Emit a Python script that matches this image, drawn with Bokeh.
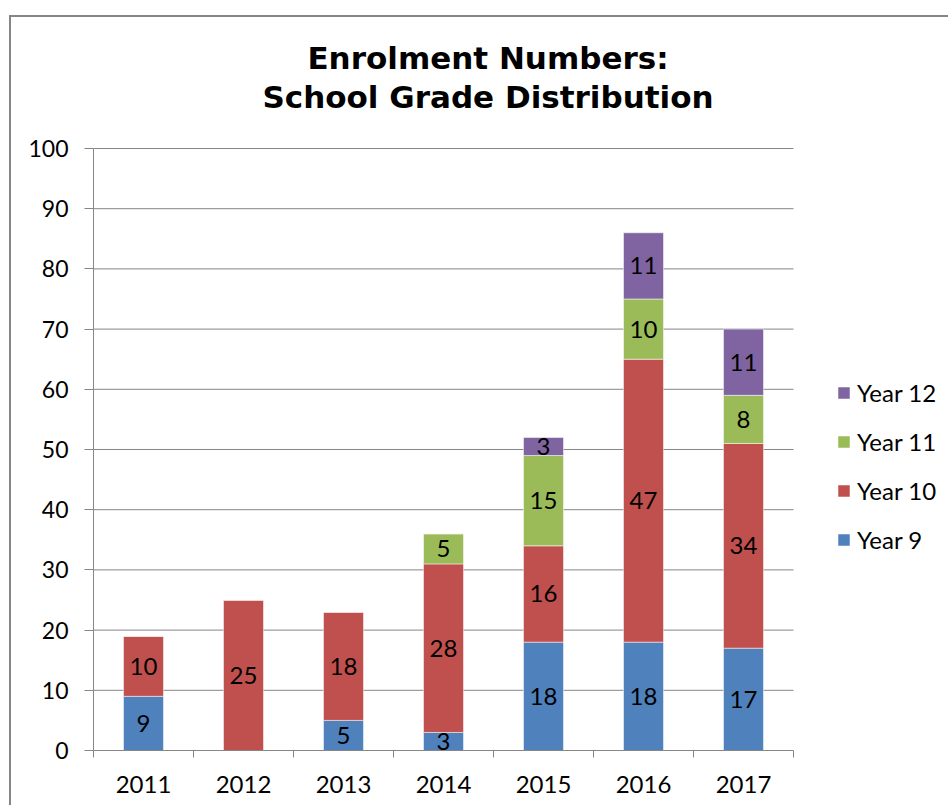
from bokeh.plotting import figure
from bokeh.models import (Range1d, LinearAxis, FixedTicker, Label,
                          ColumnDataSource, LabelSet, Legend, LegendItem)
from bokeh.core.properties import value
from bokeh.embed import file_html
from bokeh.resources import INLINE

years = ["2011", "2012", "2013", "2014", "2015", "2016", "2017"]
year9 = [9, 0, 5, 3, 18, 18, 17]
year10 = [10, 25, 18, 28, 16, 47, 34]
year11 = [0, 0, 0, 5, 15, 10, 8]
year12 = [0, 0, 0, 0, 3, 11, 11]
series = ["Year 9", "Year 10", "Year 11", "Year 12"]
colors = ["#4F81BD", "#C0504D", "#9BBB59", "#8064A2"]
y_ticks = [0, 10, 20, 30, 40, 50, 60, 70, 80, 90, 100]
title_lines = ["Enrolment Numbers:", "School Grade Distribution"]

FONT = "Lato"
GRID = "#868686"

n = len(years)
xpos = [i + 0.5 for i in range(n)]  # category slot centres
src = ColumnDataSource(dict(x=xpos, y9=year9, y10=year10, y11=year11, y12=year12))

# frame extends over the title and legend area so those annotations are not clipped
p = figure(width=939, height=790, x_range=Range1d(0, 8.57), y_range=Range1d(0, 121.76),
           output_backend="svg", toolbar_location=None, x_axis_location=None, title=None,
           min_border_left=82, min_border_right=0, min_border_top=0, min_border_bottom=57)
p.outline_line_color = None
p.background_fill_color = "white"
p.border_fill_color = "white"
p.styles = {"margin-left": "9px", "margin-top": "15px",
            "border-left": "2px solid #868686", "border-top": "2px solid #868686"}
p.xgrid.grid_line_color = None
p.ygrid.grid_line_color = None

# horizontal gridlines across the category area only
p.segment(x0=0, x1=n, y0=y_ticks[1:], y1=y_ticks[1:], line_color=GRID, line_width=1)

renderers = p.vbar_stack(["y9", "y10", "y11", "y12"], x="x", width=0.4, source=src,
                         color=colors, line_color="white", line_alpha=0.5, line_width=1)

# value labels at the middle of each segment
lx, ly, lt = [], [], []
stacks = [year9, year10, year11, year12]
for i in range(n):
    base = 0
    for s in stacks:
        v = s[i]
        if v > 0:
            lx.append(xpos[i])
            ly.append(base + v / 2)
            lt.append(str(v))
        base += v
lsrc = ColumnDataSource(dict(x=lx, y=ly, t=lt))
p.add_layout(LabelSet(x="x", y="y", text="t", source=lsrc, text_align="center",
                      text_baseline="middle", text_font=value(FONT), text_font_size="24px",
                      text_color="black"))

# y axis
p.yaxis.ticker = FixedTicker(ticks=y_ticks)
p.yaxis.bounds = (0, 100)
p.yaxis.axis_line_color = GRID
p.yaxis.major_tick_line_color = GRID
p.yaxis.major_tick_out = 9
p.yaxis.major_tick_in = 0
p.yaxis.minor_tick_line_color = None
p.yaxis.major_label_text_font = FONT
p.yaxis.major_label_text_font_size = "23px"
p.yaxis.major_label_text_color = "black"
p.yaxis.major_label_standoff = 16

# x axis: labels at slot centres, tick marks (minor) at category boundaries
x_axis = LinearAxis(ticker=FixedTicker(ticks=xpos, minor_ticks=list(range(n + 1))), bounds=(0, n))
x_axis.major_label_overrides = {x: y for x, y in zip(xpos, years)}
x_axis.axis_line_color = GRID
x_axis.major_tick_line_color = None
x_axis.major_tick_out = 0
x_axis.major_tick_in = 0
x_axis.minor_tick_line_color = GRID
x_axis.minor_tick_out = 7
x_axis.minor_tick_in = 0
x_axis.major_label_text_font = FONT
x_axis.major_label_text_font_size = "24px"
x_axis.major_label_text_color = "black"
x_axis.major_label_standoff = 18
p.add_layout(x_axis, "below")

# title (two lines)
for txt, ty in [(title_lines[0], 115.1), (title_lines[1], 108.6)]:
    p.add_layout(Label(x=3.945, y=ty, text=txt, text_align="center", text_baseline="middle",
                       text_font="DejaVu Sans", text_font_style="bold",
                       text_font_size="31px", text_color="black"))

# legend (Year 12 at top)
items = [LegendItem(label=series[k], renderers=[renderers[k]]) for k in range(3, -1, -1)]
legend = Legend(items=items, location=(743, 196), padding=0, margin=0,
                border_line_color=None, background_fill_alpha=0,
                label_text_font=FONT, label_text_font_size="24px", label_text_color="black",
                glyph_width=15, glyph_height=15, label_standoff=6, spacing=20, label_height=15)
p.add_layout(legend, "center")

open("out.html", "w").write(file_html(p, INLINE))
